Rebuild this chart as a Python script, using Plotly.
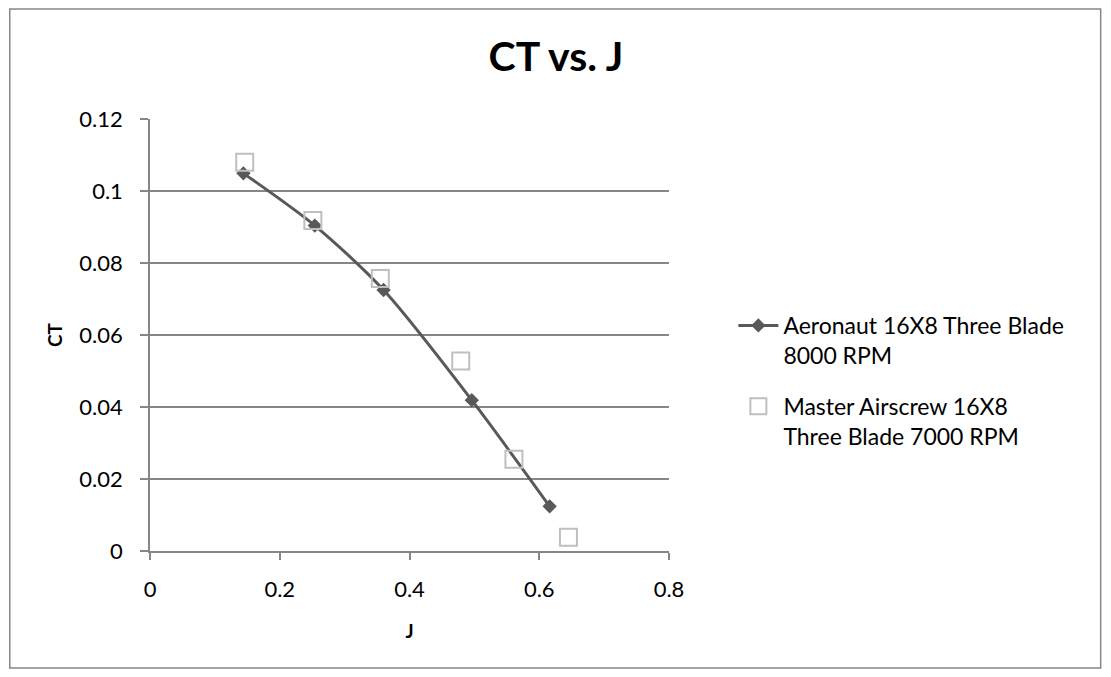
import plotly.graph_objects as go

# Aeronaut 16X8 three blade, 8000 RPM
aero_j = [0.144, 0.254, 0.360, 0.496, 0.616]
aero_ct = [0.1049, 0.0904, 0.0725, 0.0419, 0.0124]

# Master Airscrew 16X8 three blade, 7000 RPM
master_j = [0.146, 0.251, 0.355, 0.479, 0.561, 0.645]
master_ct = [0.1080, 0.0918, 0.0757, 0.0528, 0.0255, 0.0038]

x_ticks = [0, 0.2, 0.4, 0.6, 0.8]
y_ticks = [0, 0.02, 0.04, 0.06, 0.08, 0.1, 0.12]

# the page puts the figure 8px in from the corner, so size it to fit the window
OFF = 8
W, H = 1111 - 2 * OFF, 677 - 2 * OFF
L, T = 149.5 - OFF, 119 - OFF
pw, ph = 520, 432
R, B = W - L - pw, H - T - ph

font = "Lato, 'Open Sans', sans-serif"

fig = go.Figure()
fig.add_trace(go.Scatter(
    x=aero_j, y=aero_ct, mode="lines+markers", legendgroup="aero",
    name="Aeronaut 16X8 Three Blade<br>8000 RPM",
    line=dict(color="#595959", width=3, shape="spline", smoothing=0.8),
    marker=dict(symbol="diamond", size=11, color="#595959"),
))
fig.add_trace(go.Scatter(
    x=master_j, y=master_ct, mode="markers", legendgroup="master",
    name="Master Airscrew 16X8<br>Three Blade 7000 RPM",
    marker=dict(symbol="square-open", size=17, color="#BFBFBF",
                line=dict(width=2, color="#BFBFBF")),
))

# page pixel -> paper fraction
px = lambda v: (v - OFF - L) / pw
py = lambda v: (H - B - (v - OFF)) / ph

# outer chart border
fig.add_shape(type="rect", xref="paper", yref="paper",
              x0=px(OFF + 1), x1=px(OFF + W - 1), y0=py(OFF + H - 1), y1=py(OFF + 1),
              line=dict(color="#868686", width=1.5), layer="below")

fig.update_layout(
    width=W, height=H,
    margin=dict(l=L, r=R, t=T, b=B),
    paper_bgcolor="white", plot_bgcolor="white",
    font=dict(family=font, size=22, color="black"),
    title=dict(text="<b>CT vs. J</b>", xref="container", x=(556 - OFF) / W,
               xanchor="center", y=1 - (57 - OFF) / H, yanchor="middle",
               font=dict(size=41, family=font)),
    legend=dict(x=px(734), y=py(304), xanchor="left", yanchor="top",
                font=dict(size=23), tracegroupgap=18, valign="top",
                itemwidth=40, bgcolor="rgba(0,0,0,0)"),
    showlegend=True,
)
fig.update_xaxes(
    range=[0, 0.8], tickvals=x_ticks, ticktext=[f"{v:g}" for v in x_ticks],
    showgrid=False, zeroline=False,
    showline=True, linecolor="#868686", linewidth=1.5,
    ticks="outside", ticklen=7, tickcolor="#868686", tickwidth=1.5,
    ticklabelstandoff=11,
    title=dict(text="<b>J</b>", font=dict(size=19), standoff=24),
)
fig.update_yaxes(
    range=[0, 0.12], tickvals=y_ticks, ticktext=[f"{v:g}" for v in y_ticks],
    showgrid=True, gridcolor="#868686", gridwidth=1.5, zeroline=False,
    showline=True, linecolor="#868686", linewidth=1.5,
    ticks="outside", ticklen=8, tickcolor="#868686", tickwidth=1.5,
    ticklabelstandoff=13,
    title=dict(text="<b>CT</b>", font=dict(size=19), standoff=12),
)

fig.write_html("out.html")
